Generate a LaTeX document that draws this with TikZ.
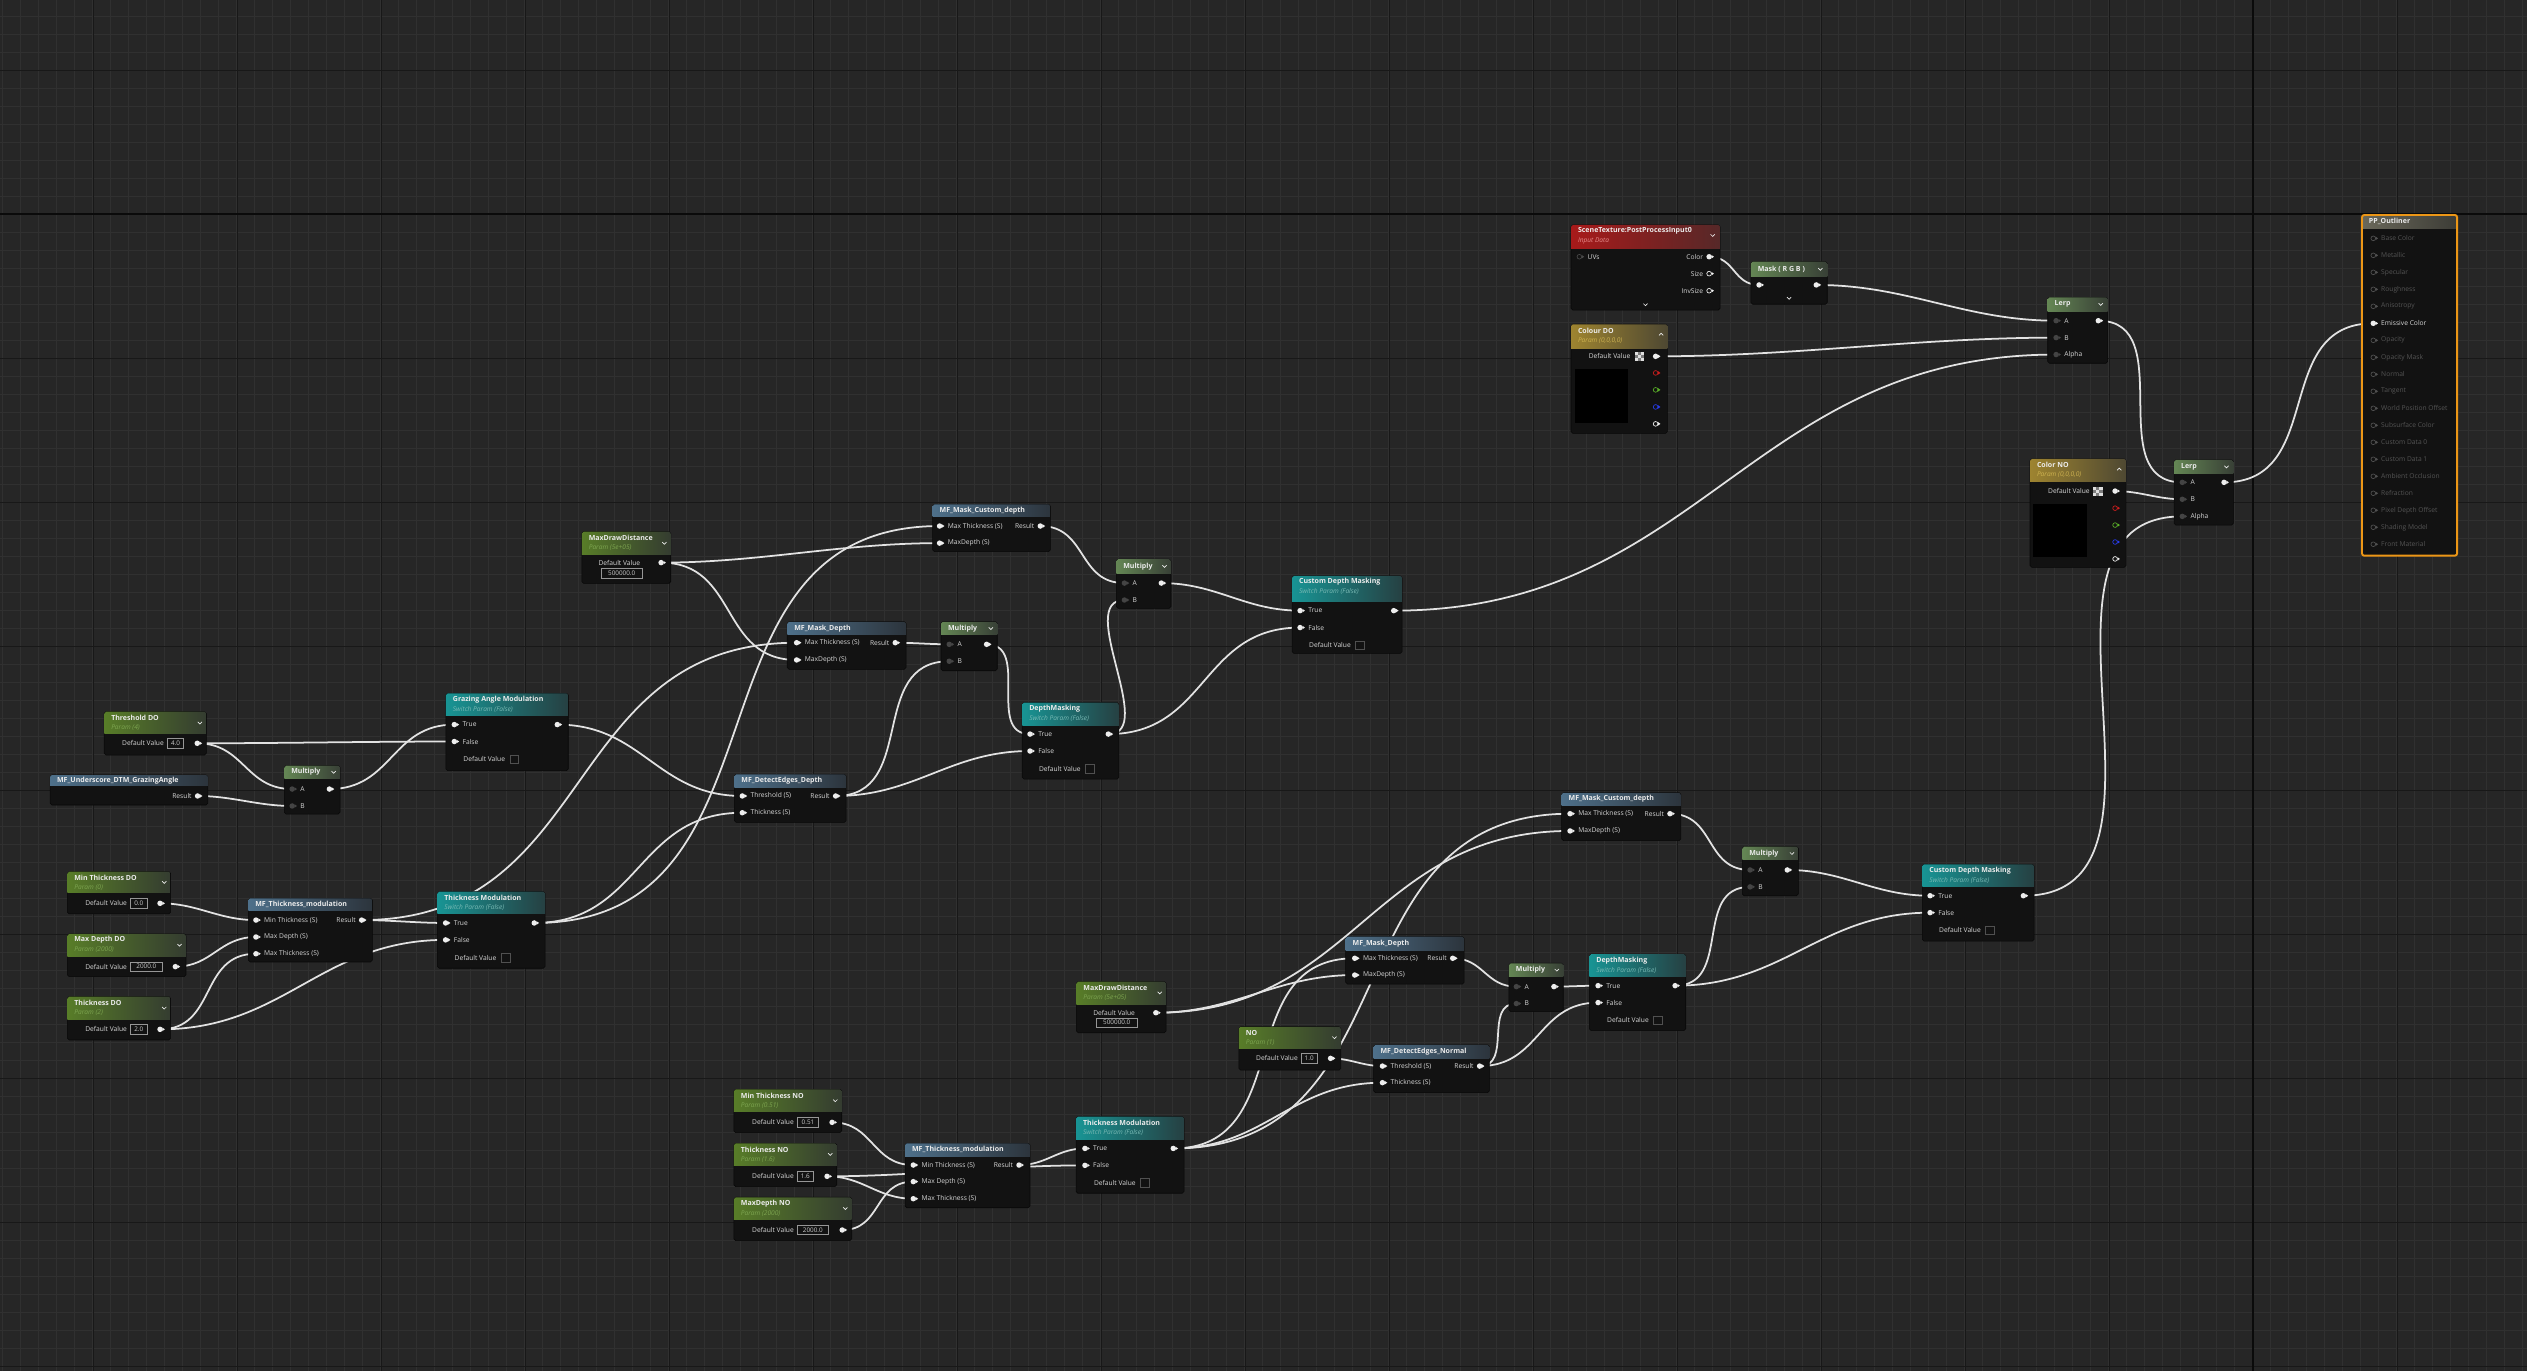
\documentclass[tikz,border=0pt]{standalone}
\usepackage{fontspec}
\setmainfont{Open Sans}
\usetikzlibrary{calc}

\definecolor{uebg}{RGB}{38,38,38}
\definecolor{gridminor}{RGB}{48,48,48}
\definecolor{gridmajor}{RGB}{24,24,24}
\definecolor{axiscol}{RGB}{10,10,10}
\definecolor{nodebody}{RGB}{18,18,18}
\definecolor{nodeedge}{RGB}{8,8,8}
\definecolor{wirecol}{RGB}{226,226,226}
\definecolor{pinwhite}{RGB}{238,238,238}
\definecolor{pingrey}{RGB}{68,68,68}
\definecolor{pindark}{RGB}{72,72,72}
\definecolor{pinoff}{RGB}{80,80,80}
\definecolor{pinred}{RGB}{205,30,30}
\definecolor{pingreen}{RGB}{90,175,40}
\definecolor{pinblue}{RGB}{40,60,235}
\definecolor{labelcol}{RGB}{214,214,214}
\definecolor{labeloff}{RGB}{84,84,84}
\definecolor{titlecol}{RGB}{236,236,236}
\definecolor{valedge}{RGB}{150,150,150}
\definecolor{valtext}{RGB}{205,205,205}
\definecolor{checkedge}{RGB}{80,80,80}
\definecolor{chklight}{RGB}{222,222,222}
\definecolor{chkdark}{RGB}{125,125,125}
\definecolor{ppedge}{RGB}{236,150,22}
% header colours: left, right, subtitle
\definecolor{parL}{RGB}{88,125,40}   \definecolor{parR}{RGB}{52,60,48}   \definecolor{parS}{RGB}{125,165,80}
\definecolor{mfL}{RGB}{78,112,138}   \definecolor{mfR}{RGB}{44,52,60}    \definecolor{mfS}{RGB}{150,180,200}
\definecolor{swL}{RGB}{24,148,148}   \definecolor{swR}{RGB}{38,64,66}    \definecolor{swS}{RGB}{120,185,180}
\definecolor{mathL}{RGB}{100,134,84} \definecolor{mathR}{RGB}{56,64,54}  \definecolor{mathS}{RGB}{160,190,150}
\definecolor{vecL}{RGB}{158,132,48}  \definecolor{vecR}{RGB}{78,72,50}   \definecolor{vecS}{RGB}{205,178,80}
\definecolor{texL}{RGB}{168,26,26}   \definecolor{texR}{RGB}{86,40,40}   \definecolor{texS}{RGB}{232,140,140}
\definecolor{ppL}{RGB}{106,104,90}   \definecolor{ppR}{RGB}{60,60,54}    \definecolor{ppS}{RGB}{170,170,160}

\pgfdeclarelayer{grid}
\pgfdeclarelayer{wires}
\pgfsetlayers{grid,wires,main}

% box: name, x1, y1, x2, y2, header bottom, colour key, title, subtitle
\newcommand{\uebox}[9]{%
  \node[uebody, minimum width={(#4-#2)*0.5mm}, minimum height={(#5-#3)*0.5mm}] (#1) at (#2,#3) {};
  \begin{scope}
    \clip[rounded corners=1.6pt] (#2,#3) rectangle (#4,#5);
    \shade[left color=#7L, right color=#7R] (#2,#3) rectangle (#4,#6);
  \end{scope}
  \if\relax\detokenize{#9}\relax
    \node[uetitle] (#1-ttl) at ({#2+4.2},{(#3+#6)/2}) {#8};
  \else
    \node[uetitle] (#1-ttl) at ({#2+4.2},{#3+3.8}) {#8};
    \node[uesub, text=#7S] (#1-sub) at ({#2+4.2},{#3+9.9}) {#9};
  \fi}
\newcommand{\uepin}[4]{%
  \fill[#4 tip] ({#2+1.5},{#3-1.05}) -- ({#2+3.0},{#3}) -- ({#2+1.5},{#3+1.05}) -- cycle;
  \node[#4] (#1) at ({#2},{#3}) {};}
\newcommand{\uein}[5]{%
  \uepin{#1}{#2}{#3}{#4}
  \node[pinlabel, anchor=west] (#1l) at ({#2+5},{#3}) {#5};}
\newcommand{\ueout}[5]{%
  \uepin{#1}{#2}{#3}{#4}
  \node[pinlabel, anchor=east] (#1l) at ({#2-3.6},{#3}) {#5};}
\newcommand{\uevalue}[5]{%
  \node[valbox, minimum width={(#3-#2)*0.5mm}] (#1) at ({(#2+#3)/2},{#4}) {#5};}
\newcommand{\uedefault}[6]{%
  \node[pinlabel, anchor=east] (#1-dl) at ({#2-2},{#4}) {Default Value};
  \uevalue{#1-v}{#2}{#3}{#4}{#5}
  \uepin{#1-o}{#6}{#4}{pinw}}
\newcommand{\uechev}[2]{\draw[chev] ({#1-1.3},{#2-0.6}) -- ({#1},{#2+0.7}) -- ({#1+1.3},{#2-0.6});}
\newcommand{\uechevup}[2]{\draw[chev] ({#1-1.3},{#2+0.6}) -- ({#1},{#2-0.7}) -- ({#1+1.3},{#2+0.6});}
\newcommand{\uechecker}[2]{%
  \fill[chkdark] (#1,#2) rectangle ({#1+5.7},{#2+5.7});
  \foreach \ci/\cj in {0/0,2/0,1/1,0/2,2/2}
    \fill[chklight] ({#1+1.9*\ci},{#2+1.9*\cj}) rectangle ++(1.9,1.9);}
% switch: name, x1, y1, x2, y2, header bottom, title, in x, out x
\newcommand{\ueswitch}[9]{%
  \uebox{#1}{#2}{#3}{#4}{#5}{#6}{sw}{#7}{Switch Param (False)}
  \uein{#1-t}{#8}{#6+5.6}{pinw}{True}
  \uein{#1-f}{#8}{#6+16.1}{pinw}{False}
  \node[pinlabel, anchor=west] (#1-dl) at ({#8+5.5},{#6+27.1}) {Default Value};
  \node[checkbx] (#1-c) at ({#8+37.2},{#6+27.1}) {};
  \uepin{#1-o}{#9}{#6+5.6}{pinw}}
% multiply: name, x1, y1, x2, y2, header bottom, in x, out x, A y
\newcommand{\uemul}[9]{%
  \uebox{#1}{#2}{#3}{#4}{#5}{#6}{math}{Multiply}{}
  \uechev{#4-4}{(#3+#6)/2}
  \uein{#1-a}{#7}{#9}{ping}{A}
  \uein{#1-b}{#7}{#9+10.5}{ping}{B}
  \uepin{#1-o}{#8}{#9}{pinw}}
\newcommand{\uewire}[2]{%
  \draw[wire] let \p1=(#1), \p2=(#2), \n1={(abs(\x2-\x1)+abs(\y2-\y1))/3} in
    (\p1) .. controls +(\n1,0) and +(-\n1,0) .. (\p2);}

\begin{document}
\begin{tikzpicture}[
    x=0.5mm, y=-0.5mm,
    uebody/.style={draw=nodeedge, line width=0.5pt, fill=nodebody, rounded corners=1.6pt,
                   anchor=north west, inner sep=0pt, outer sep=0pt},
    uetitle/.style={anchor=west, inner sep=0pt, text=titlecol, font=\fontsize{6.2}{7}\selectfont\bfseries},
    uesub/.style={anchor=west, inner sep=0pt, font=\fontsize{5.8}{7}\selectfont\itshape},
    pinlabel/.style={inner sep=0pt, text=labelcol, font=\fontsize{5.9}{7}\selectfont},
    pplabel/.style={pinlabel, text=labeloff},
    pinw/.style={circle, fill=pinwhite, inner sep=0pt, minimum size=1.7mm},
    pinw tip/.style={fill=pinwhite},
    ping/.style={circle, fill=pingrey, inner sep=0pt, minimum size=1.7mm},
    ping tip/.style={fill=pingrey},
    pinhw/.style={circle, draw=pinwhite, line width=0.6pt, inner sep=0pt, minimum size=1.45mm},
    pinhw tip/.style={fill=pinwhite},
    pinhd/.style={circle, draw=pindark, line width=0.6pt, inner sep=0pt, minimum size=1.45mm},
    pinhd tip/.style={fill=pindark},
    pinhg/.style={circle, draw=pinoff, line width=0.6pt, inner sep=0pt, minimum size=1.45mm},
    pinhg tip/.style={fill=pinoff},
    pinhr/.style={circle, draw=pinred, line width=0.6pt, inner sep=0pt, minimum size=1.45mm},
    pinhr tip/.style={fill=pinred},
    pinhgr/.style={circle, draw=pingreen, line width=0.6pt, inner sep=0pt, minimum size=1.45mm},
    pinhgr tip/.style={fill=pingreen},
    pinhb/.style={circle, draw=pinblue, line width=0.6pt, inner sep=0pt, minimum size=1.45mm},
    pinhb tip/.style={fill=pinblue},
    valbox/.style={draw=valedge, line width=0.45pt, fill=nodebody, minimum height=2.9mm,
                   inner sep=0pt, text=valtext, font=\fontsize{5.6}{6}\selectfont},
    checkbx/.style={draw=checkedge, line width=0.5pt, minimum size=2.7mm, inner sep=0pt},
    chev/.style={draw=titlecol, line width=0.6pt},
    wire/.style={draw=wirecol, line width=1.55pt},
    gridmin/.style={draw=gridminor, line width=0.7pt},
    gridmaj/.style={draw=gridmajor, line width=0.9pt},
    gridaxis/.style={draw=axiscol, line width=1.6pt},
]
\useasboundingbox (0,0) rectangle (1568,851);

\begin{pgfonlayer}{grid}
  \fill[uebg] (0,0) rectangle (1568,851);
  \foreach \gx in {0,...,140} \draw[gridmin] ({1.75+11.169*\gx},0) -- ++(0,851);
  \foreach \gy in {0,...,75} \draw[gridmin] (0,{9.93+11.169*\gy}) -- ++(1568,0);
  \foreach \gx in {-1,...,15} \draw[gridmaj] ({1398-89.35*\gx},0) -- ++(0,851);
  \foreach \gy in {-1,...,8} \draw[gridmaj] (0,{132.8+89.35*\gy}) -- ++(1568,0);
  \draw[gridaxis] (1398,0) -- (1398,851);
  \draw[gridaxis] (0,132.8) -- (1568,132.8);
\end{pgfonlayer}

% scene colour, lerps and output
\uebox{ptex}{974.8}{139.6}{1067.3}{192.4}{154}{tex}{SceneTexture:PostProcessInput0}{Input Data}
\uechev{1062.7}{146}
\uein{ptex-uv}{980}{159.3}{pinhd}{UVs}
\ueout{ptex-col}{1060.5}{159.3}{pinw}{Color}
\ueout{ptex-size}{1060.5}{169.8}{pinhw}{Size}
\ueout{ptex-inv}{1060.5}{180.4}{pinhw}{InvSize}
\uechev{1021}{189}

\uebox{pmask}{1086.4}{162.4}{1133.8}{188.8}{171.7}{math}{Mask ( R G B )}{}
\uechev{1129.5}{167}
\uepin{pmask-i}{1091.5}{176.8}{pinw}
\uepin{pmask-o}{1127}{176.8}{pinw}
\uechev{1110.1}{185}

\uebox{colDO}{974.8}{201.2}{1034.6}{268.9}{216.1}{vec}{Colour DO}{Param (0,0,0,0)}
\uechevup{1030.7}{207.5}
\node[pinlabel, anchor=east] (colDO-dl) at (1011.8,221.1) {Default Value};
\uechecker{1014.2}{218.3}
\uepin{colDO-o}{1027.3}{221.1}{pinw}
\uepin{colDO-r}{1027.3}{231.4}{pinhr}
\uepin{colDO-g}{1027.3}{241.9}{pinhgr}
\uepin{colDO-b}{1027.3}{252.5}{pinhb}
\uepin{colDO-al}{1027.3}{263}{pinhw}
\fill[black] (977,229) rectangle (1010.2,262.3);

\uebox{lerpa}{1270.6}{184.5}{1307.8}{225.4}{193}{math}{Lerp}{}
\uechev{1303.5}{188.8}
\uein{lerpa-a}{1275.8}{199}{ping}{A}
\uein{lerpa-b}{1275.8}{209.5}{ping}{B}
\uein{lerpa-al}{1275.8}{220}{ping}{Alpha}
\uepin{lerpa-o}{1302}{199}{pinw}

\uebox{colNO}{1259.6}{284.8}{1319.2}{352}{298.9}{vec}{Color NO}{Param (0,0,0,0)}
\uechevup{1315}{291.2}
\node[pinlabel, anchor=east] (colNO-dl) at (1296.8,304.7) {Default Value};
\uechecker{1298.9}{301.9}
\uepin{colNO-o}{1312.4}{304.7}{pinw}
\uepin{colNO-r}{1312.4}{315.3}{pinhr}
\uepin{colNO-g}{1312.4}{325.8}{pinhgr}
\uepin{colNO-b}{1312.4}{336.3}{pinhb}
\uepin{colNO-al}{1312.4}{346.8}{pinhw}
\fill[black] (1261.7,312.7) rectangle (1295,345.6);

\uebox{lerpb}{1349}{285.4}{1385.8}{325.8}{293.7}{math}{Lerp}{}
\uechev{1381.5}{289.6}
\uein{lerpb-a}{1354.1}{299.3}{ping}{A}
\uein{lerpb-b}{1354.1}{309.8}{ping}{B}
\uein{lerpb-al}{1354.1}{320.4}{ping}{Alpha}
\uepin{lerpb-o}{1380}{299.3}{pinw}

\uebox{ppout}{1465.6}{133.4}{1524.6}{344.8}{141.9}{pp}{PP\_Outliner}{}
\draw[ppedge, line width=1.7pt, rounded corners=2pt] (1465.6,133.4) rectangle (1524.6,344.8);
\foreach \lab [count=\k from 0] in {Base Color,Metallic,Specular,Roughness,Anisotropy,
    Emissive Color,Opacity,Opacity Mask,Normal,Tangent,World Position Offset,Subsurface Color,
    Custom Data 0,Custom Data 1,Ambient Occlusion,Refraction,Pixel Depth Offset,Shading Model,
    Front Material}{
  \ifnum\k=5
    \uepin{pp-\k}{1472.6}{147.9+10.545*\k}{pinw}
    \node[pinlabel, anchor=west] (pp-\k-l) at (1477.4,{147.9+10.545*\k}) {\lab};
  \else
    \uepin{pp-\k}{1472.6}{147.9+10.545*\k}{pinhg}
    \node[pplabel, anchor=west] (pp-\k-l) at (1477.4,{147.9+10.545*\k}) {\lab};
  \fi
}

% grazing angle
\uebox{thrDO}{64.7}{441.6}{128}{468.5}{455.4}{par}{Threshold DO}{Param (4)}
\uechev{124}{448.5}
\uedefault{thrDO}{103.8}{114}{461.2}{4.0}{122.4}

\uebox{mfGraz}{31.1}{480.9}{129}{499.5}{487.5}{mf}{MF\_Underscore\_DTM\_GrazingAngle}{}
\ueout{mfGraz-o}{122.6}{493.9}{pinw}{Result}

\uemul{mulGraz}{176.4}{475.1}{211}{505.1}{483}{181.3}{204.4}{489.6}
\ueswitch{swGraz}{276.7}{430.2}{352.6}{478.2}{444}{Grazing Angle Modulation}{281.9}{345.8}

% thickness, depth branch
\uebox{minDO}{41.8}{540.9}{105.9}{567.1}{553.9}{par}{Min Thickness DO}{Param (0)}
\uechev{101.9}{547.4}
\uedefault{minDO}{80.9}{91.4}{560.5}{0.0}{99.3}

\uebox{maxDO}{41.8}{579.5}{115.4}{606}{593.2}{par}{Max Depth DO}{Param (2000)}
\uechev{111.4}{586.4}
\uedefault{maxDO}{80.9}{100.7}{599.8}{2000.0}{108.8}

\uebox{thkDO}{41.8}{618.4}{105.9}{645.3}{632.3}{par}{Thickness DO}{Param (2)}
\uechev{101.9}{625.4}
\uedefault{thkDO}{80.9}{91.4}{638.7}{2.0}{99.3}

\uebox{mfThkDO}{154.1}{557.4}{231}{596.9}{564.7}{mf}{MF\_Thickness\_modulation}{}
\uein{mfThkDO-min}{158.8}{570.9}{pinw}{Min Thickness (S)}
\uein{mfThkDO-dep}{158.8}{581.4}{pinw}{Max Depth (S)}
\uein{mfThkDO-max}{158.8}{591.8}{pinw}{Max Thickness (S)}
\ueout{mfThkDO-o}{224.4}{570.9}{pinw}{Result}

\ueswitch{swThkDO}{271.4}{553.3}{338.2}{600.8}{567.1}{Thickness Modulation}{276.5}{331.5}

\uebox{drawDO}{361}{329.9}{416.2}{362}{344}{par}{MaxDrawDistance}{Param (5e+05)}
\uechev{412.2}{337}
\node[pinlabel] (drawDO-dl) at (384.3,349.1) {Default Value};
\uevalue{drawDO-v}{373}{398.6}{355.6}{500000.0}
\uepin{drawDO-o}{410.2}{349.1}{pinw}

\uebox{mfCustDO}{578.7}{313}{651.8}{342.3}{320.6}{mf}{MF\_Mask\_Custom\_depth}{}
\uein{mfCustDO-thk}{583}{326.4}{pinw}{Max Thickness (S)}
\uein{mfCustDO-dep}{583}{337}{pinw}{MaxDepth (S)}
\ueout{mfCustDO-o}{645.5}{326.4}{pinw}{Result}

\uebox{mfDepDO}{488.5}{385.8}{562.2}{415.3}{394}{mf}{MF\_Mask\_Depth}{}
\uein{mfDepDO-thk}{494.3}{398.8}{pinw}{Max Thickness (S)}
\uein{mfDepDO-dep}{494.3}{409.5}{pinw}{MaxDepth (S)}
\ueout{mfDepDO-o}{555.5}{398.8}{pinw}{Result}

\uebox{mfEdgeDO}{455.7}{480.5}{525}{510.3}{488.8}{mf}{MF\_DetectEdges\_Depth}{}
\uein{mfEdgeDO-thr}{460.6}{493.9}{pinw}{Threshold (S)}
\uein{mfEdgeDO-thk}{460.6}{504.3}{pinw}{Thickness (S)}
\ueout{mfEdgeDO-o}{518.5}{493.9}{pinw}{Result}

\uemul{mulDepDO}{583.9}{385.8}{618.8}{416.2}{394}{589}{612.2}{399.8}
\ueswitch{swDepDO}{634.3}{436}{694.3}{483.4}{449.9}{DepthMasking}{639.1}{687.7}
\uemul{mulCustDO}{692.7}{347}{726.6}{377.5}{355.7}{697.7}{720.6}{361.8}
\ueswitch{swCustDO}{801.7}{357.4}{870}{405.4}{373.3}{Custom Depth Masking}{806.7}{864.8}

% normal branch
\uebox{minNO}{455.4}{675.9}{522.3}{702.8}{689.8}{par}{Min Thickness NO}{Param (0.51)}
\uechev{518.3}{682.9}
\uedefault{minNO}{494.7}{508}{696.4}{0.51}{516.3}

\uebox{thkNO}{455.4}{709.4}{519.2}{736.3}{722.9}{par}{Thickness NO}{Param (1.6)}
\uechev{515.2}{716.2}
\uedefault{thkNO}{494.7}{504.7}{729.9}{1.6}{513.2}

\uebox{maxNO}{455.4}{742.9}{528.5}{769.8}{756.6}{par}{MaxDepth NO}{Param (2000)}
\uechev{524.5}{749.8}
\uedefault{maxNO}{494.7}{514}{763.2}{2000.0}{522.6}

\uebox{mfThkNO}{561.6}{709.4}{639.1}{749.4}{717.3}{mf}{MF\_Thickness\_modulation}{}
\uein{mfThkNO-min}{566.7}{722.9}{pinw}{Min Thickness (S)}
\uein{mfThkNO-dep}{566.7}{733.2}{pinw}{Max Depth (S)}
\uein{mfThkNO-max}{566.7}{743.8}{pinw}{Max Thickness (S)}
\ueout{mfThkNO-o}{632.3}{722.9}{pinw}{Result}

\ueswitch{swThkNO}{667.7}{692.9}{734.7}{740.4}{707}{Thickness Modulation}{673.2}{728}

\uebox{drawNO}{667.9}{609.1}{723.6}{640.8}{623}{par}{MaxDrawDistance}{Param (5e+05)}
\uechev{719.6}{616}
\node[pinlabel] (drawNO-dl) at (691.3,628.4) {Default Value};
\uevalue{drawNO-v}{680}{705.9}{634.6}{500000.0}
\uepin{drawNO-o}{717.2}{628.4}{pinw}

\uebox{normNO}{768.7}{637.1}{832}{664}{650.5}{par}{NO}{Param (1)}
\uechev{828}{643.8}
\uedefault{normNO}{807.4}{817.3}{656.7}{1.0}{825.6}

\uebox{mfDepNO}{835}{581.2}{908.5}{610.6}{589.5}{mf}{MF\_Mask\_Depth}{}
\uein{mfDepNO-thk}{840.6}{594.6}{pinw}{Max Thickness (S)}
\uein{mfDepNO-dep}{840.6}{605}{pinw}{MaxDepth (S)}
\ueout{mfDepNO-o}{901.4}{594.6}{pinw}{Result}

\uebox{mfEdgeNO}{852.3}{648.4}{924.2}{678}{656.7}{mf}{MF\_DetectEdges\_Normal}{}
\uein{mfEdgeNO-thr}{857.8}{661.5}{pinw}{Threshold (S)}
\uein{mfEdgeNO-thk}{857.8}{671.8}{pinw}{Thickness (S)}
\ueout{mfEdgeNO-o}{918.1}{661.5}{pinw}{Result}

\uebox{mfCustNO}{969}{491.9}{1043}{521.6}{499.5}{mf}{MF\_Mask\_Custom\_depth}{}
\uein{mfCustNO-thk}{974.2}{504.9}{pinw}{Max Thickness (S)}
\uein{mfCustNO-dep}{974.2}{515.6}{pinw}{MaxDepth (S)}
\ueout{mfCustNO-o}{1036.2}{504.9}{pinw}{Result}

\uemul{mulDepNO}{936.3}{597.7}{970}{627.7}{606}{940.9}{964.2}{612.2}
\ueswitch{swDepNO}{986.2}{592}{1046}{639.5}{606}{DepthMasking}{991.6}{1039.4}
\uemul{mulCustNO}{1081.1}{525.4}{1115.9}{555.8}{533.6}{1085.9}{1109}{539.8}
\ueswitch{swCustNO}{1192.8}{536.3}{1262.1}{584}{550.2}{Custom Depth Masking}{1197.6}{1255.5}

\begin{pgfonlayer}{wires}
  \uewire{ptex-col}{pmask-i}
  \uewire{pmask-o}{lerpa-a}
  \uewire{colDO-o}{lerpa-b}
  \uewire{swCustDO-o}{lerpa-al}
  \uewire{lerpa-o}{lerpb-a}
  \uewire{colNO-o}{lerpb-b}
  \uewire{swCustNO-o}{lerpb-al}
  \uewire{lerpb-o}{pp-5}

  \uewire{thrDO-o}{swGraz-f}
  \uewire{thrDO-o}{mulGraz-a}
  \uewire{mfGraz-o}{mulGraz-b}
  \uewire{mulGraz-o}{swGraz-t}
  \uewire{swGraz-o}{mfEdgeDO-thr}

  \uewire{minDO-o}{mfThkDO-min}
  \uewire{maxDO-o}{mfThkDO-dep}
  \uewire{thkDO-o}{mfThkDO-max}
  \uewire{thkDO-o}{swThkDO-f}
  \uewire{mfThkDO-o}{swThkDO-t}
  \uewire{mfThkDO-o}{mfDepDO-thk}
  \uewire{swThkDO-o}{mfEdgeDO-thk}
  \uewire{swThkDO-o}{mfCustDO-thk}
  \uewire{drawDO-o}{mfCustDO-dep}
  \uewire{drawDO-o}{mfDepDO-dep}
  \uewire{mfDepDO-o}{mulDepDO-a}
  \uewire{mfEdgeDO-o}{mulDepDO-b}
  \uewire{mfEdgeDO-o}{swDepDO-f}
  \uewire{mulDepDO-o}{swDepDO-t}
  \uewire{swDepDO-o}{mulCustDO-b}
  \uewire{swDepDO-o}{swCustDO-f}
  \uewire{mfCustDO-o}{mulCustDO-a}
  \uewire{mulCustDO-o}{swCustDO-t}

  \uewire{minNO-o}{mfThkNO-min}
  \uewire{thkNO-o}{mfThkNO-max}
  \uewire{thkNO-o}{swThkNO-f}
  \uewire{maxNO-o}{mfThkNO-dep}
  \uewire{mfThkNO-o}{swThkNO-t}
  \uewire{swThkNO-o}{mfDepNO-thk}
  \uewire{swThkNO-o}{mfCustNO-thk}
  \uewire{swThkNO-o}{mfEdgeNO-thk}
  \uewire{drawNO-o}{mfDepNO-dep}
  \uewire{drawNO-o}{mfCustNO-dep}
  \uewire{normNO-o}{mfEdgeNO-thr}
  \uewire{mfDepNO-o}{mulDepNO-a}
  \uewire{mfEdgeNO-o}{mulDepNO-b}
  \uewire{mfEdgeNO-o}{swDepNO-f}
  \uewire{mulDepNO-o}{swDepNO-t}
  \uewire{swDepNO-o}{mulCustNO-b}
  \uewire{swDepNO-o}{swCustNO-f}
  \uewire{mfCustNO-o}{mulCustNO-a}
  \uewire{mulCustNO-o}{swCustNO-t}
\end{pgfonlayer}
\end{tikzpicture}
\end{document}
